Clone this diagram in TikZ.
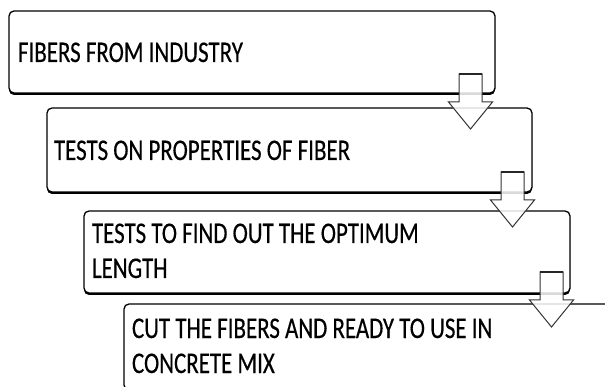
\documentclass[tikz,border=0pt]{standalone}
\usepackage{fontspec}
\setmainfont{Carlito}[FakeStretch=0.765,FakeBold=0.4]
\begin{document}
\begin{tikzpicture}[x=1pt,y=-1pt,
  box/.style={draw=black, line width=1.3pt, rounded corners=5pt, fill=white,
    inner sep=0pt, outer sep=0pt, anchor=north west,
    preaction={fill=black, transform canvas={yshift=-2pt}}},
  txt/.style={inner sep=0pt, outer sep=0pt, anchor=base west, align=left,
    font=\fontsize{30}{35}\selectfont},
  arrowline/.style={draw=black!80, line width=1pt, fill=white, fill opacity=0.85, line join=miter},
  blockarrow/.pic={\path[arrowline] (-11.5,0) -- (11.5,0) -- (11.5,28) -- (22,28) -- (0,55) -- (-22,28) -- (-11.5,28) -- cycle;
    \draw[black!85, line width=1.6pt] (-11.5,0) -- (11.5,0);}
]
\useasboundingbox (0,0) rectangle (605,387);
\clip (0,0) rectangle (605,387);
\node[box, minimum width=486pt, minimum height=82pt] (b1) at (9,11) {};
\node[txt] (t1) at (18,62) {FIBERS FROM INDUSTRY};
\node[box, minimum width=485pt, minimum height=84pt] (b2) at (47,108) {};
\node[txt] (t2) at (54,160) {TESTS ON PROPERTIES OF FIBER};
\node[box, minimum width=486pt, minimum height=82pt] (b3) at (84,211) {};
\node[txt] (t3) at (92,278) {TESTS TO FIND OUT THE OPTIMUM\\LENGTH};
\node[box, minimum width=486pt, minimum height=86pt] (b4) at (124,304) {};
\node[txt] (t4) at (132,373) {CUT THE FIBERS AND READY TO USE IN\\CONCRETE MIX};
\pic at (470.5,74) {blockarrow};
\pic at (512.5,172) {blockarrow};
\pic at (551.5,272) {blockarrow};
\end{tikzpicture}
\end{document}
